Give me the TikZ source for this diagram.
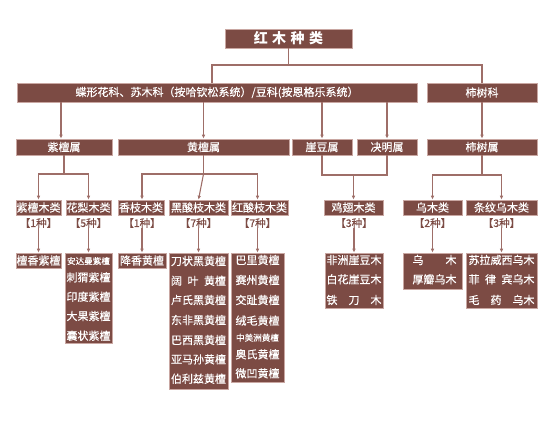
\documentclass[tikz,border=0pt]{standalone}
\usepackage{fontspec}
\setmainfont{Noto Sans CJK SC}
\newfontfamily\hmfont{Noto Sans CJK SC}[FakeBold=0.4]
\usetikzlibrary{arrows.meta}
\definecolor{hmbox}{HTML}{7C4B44}
\definecolor{hmedge}{HTML}{C9A7A2}
\definecolor{hmline}{HTML}{9E6E68}
\begin{document}
\begin{tikzpicture}[x=1pt,y=-1pt,
  box/.style={draw=hmedge, line width=0.6pt, fill=hmbox, text=white, inner sep=0pt, font=\hmfont\fontsize{11}{13}\selectfont},
  conn/.style={draw=hmline, line width=1.1pt},
  arr/.style={conn, -{Latex[length=4pt,width=3.6pt]}},
  cnt/.style={text=hmbox, inner sep=0pt, font=\hmfont\fontsize{10.5}{12}\selectfont},
  row/.style={text=white, inner sep=0pt, font=\hmfont\fontsize{11}{13}\selectfont},
  smallrow/.style={text=white, inner sep=0pt, font=\hmfont\fontsize{8.6}{10}\selectfont}]
\useasboundingbox (0,0) rectangle (554,428);

% title
\node[box, minimum width=127pt, minimum height=19pt, font=\bfseries\fontsize{14}{16}\selectfont] (title) at (288.5,38.5) {红\hspace{4.5pt}木\hspace{4.5pt}种\hspace{4.5pt}类};

% families
\node[box, minimum width=400pt, minimum height=19pt] (fam1) at (217,92.5) {蝶形花科、苏木科（按哈钦松系统）/豆科(按恩格乐系统）};
\node[box, minimum width=110pt, minimum height=19pt] (fam2) at (482,92.5) {柿树科};

% genera
\node[box, minimum width=96pt, minimum height=16pt] (g1) at (64,147) {紫檀属};
\node[box, minimum width=171pt, minimum height=16pt] (g2) at (203.5,147) {黄檀属};
\node[box, minimum width=60pt, minimum height=16pt] (g3) at (322,147) {崖豆属};
\node[box, minimum width=60pt, minimum height=16pt] (g4) at (387,147) {决明属};
\node[box, minimum width=110pt, minimum height=16pt] (g5) at (482,147) {柿树属};

% classes
\node[box, minimum width=45pt, minimum height=15pt] (c1) at (38.5,207.5) {紫檀木类};
\node[box, minimum width=45pt, minimum height=15pt] (c2) at (88.5,207.5) {花梨木类};
\node[box, minimum width=46pt, minimum height=15pt] (c3) at (141,207.5) {香枝木类};
\node[box, minimum width=59pt, minimum height=15pt] (c4) at (198.5,207.5) {黑酸枝木类};
\node[box, minimum width=57pt, minimum height=15pt] (c5) at (259.5,207.5) {红酸枝木类};
\node[box, minimum width=59pt, minimum height=15pt] (c6) at (353.5,207.5) {鸡翅木类};
\node[box, minimum width=59pt, minimum height=15pt] (c7) at (432.5,207.5) {乌木类};
\node[box, minimum width=71pt, minimum height=15pt] (c8) at (501.5,207.5) {条纹乌木类};

% counts
\node[cnt] (n1) at (38.5,223) {【1种】};
\node[cnt] (n2) at (88.5,223) {【5种】};
\node[cnt] (n3) at (142,223) {【1种】};
\node[cnt] (n4) at (198.5,223) {【7种】};
\node[cnt] (n5) at (257.5,223) {【7种】};
\node[cnt] (n6) at (354,223) {【3种】};
\node[cnt] (n7) at (432.5,223) {【2种】};
\node[cnt] (n8) at (501.5,223) {【3种】};

% species boxes
\node[box, minimum width=45pt, minimum height=15pt] (s1) at (38.5,260.5) {檀香紫檀};
\node[box, minimum width=47pt, minimum height=90pt] (s2) at (88.5,298) {};
\node[box, minimum width=48pt, minimum height=15pt] (s3) at (142,260.5) {降香黄檀};
\node[box, minimum width=59pt, minimum height=136pt] (s4) at (198.5,321) {};
\node[box, minimum width=53pt, minimum height=129pt] (s5) at (257.5,317.5) {};
\node[box, minimum width=58pt, minimum height=55pt] (s6) at (354,280.5) {};
\node[box, minimum width=59pt, minimum height=36pt] (s7) at (432.5,271) {};
\node[box, minimum width=71pt, minimum height=55pt] (s8) at (501.5,280.5) {};

% species rows
\node[smallrow] (s2a) at (88.5,261) {安达曼紫檀};
\node[row] (s2b) at (88.5,277.3) {刺猬紫檀};
\node[row] (s2c) at (88.5,296.7) {印度紫檀};
\node[row] (s2d) at (88.5,316) {大果紫檀};
\node[row] (s2e) at (88.5,335.7) {囊状紫檀};

\node[row] (s4a) at (198.5,261) {刀状黑黄檀};
\node[row] (s4b) at (198.5,280.7) {阔\hspace{0.5em}叶\hspace{0.5em}黄檀};
\node[row] (s4c) at (198.5,300) {卢氏黑黄檀};
\node[row] (s4d) at (198.5,320) {东非黑黄檀};
\node[row] (s4e) at (198.5,340) {巴西黑黄檀};
\node[row] (s4f) at (198.5,359.3) {亚马孙黄檀};
\node[row] (s4g) at (198.5,378.7) {伯利兹黄檀};

\node[row] (s5a) at (257.5,260) {巴里黄檀};
\node[row] (s5b) at (257.5,280) {赛州黄檀};
\node[row] (s5c) at (257.5,300) {交趾黄檀};
\node[row] (s5d) at (257.5,320.7) {绒毛黄檀};
\node[smallrow] (s5e) at (257.5,337.7) {中美洲黄檀};
\node[row] (s5f) at (257.5,354.3) {奥氏黄檀};
\node[row] (s5g) at (257.5,373.3) {微凹黄檀};

\node[row] (s6a) at (354,260) {非洲崖豆木};
\node[row] (s6b) at (354,279.3) {白花崖豆木};
\node[row] (s6c) at (354,300) {铁　刀　木};

\node[row] (s7a) at (434.5,260) {乌　　木};
\node[row] (s7b) at (434.5,279.3) {厚瓣乌木};

\node[row] (s8a) at (501.5,260) {苏拉威西乌木};
\node[row] (s8b) at (501.5,279.3) {菲\hspace{0.5em}律\hspace{0.5em}宾乌木};
\node[row] (s8c) at (501.5,300) {毛　药　乌木};

% connectors: title to families
\draw[conn] (title.south) -- (title.south |- 0,65);
\draw[conn] ([xshift=-5pt]fam1.north) -- ([xshift=-5pt]fam1.north |- 0,65) -| (fam2.north);

% families to genera
\draw[arr] ([xshift=-3pt]fam1.south -| g1.north) -- ([xshift=-3pt]g1.north);
\draw[arr] (fam1.south -| g2.north) -- (g2.north);
\draw[arr] (fam1.south -| g3.north) -- (g3.north);
\draw[arr] (fam1.south -| g4.north) -- (g4.north);
\draw[arr] (fam2.south) -- (g5.north);

% genera to classes
\draw[arr] (g1.south) -- (g1.south |- 0,174) -| (c1.north);
\draw[arr] (g1.south |- 0,174) -| (c2.north);
\draw[arr] (g2.south) -- (g2.south |- 0,174) -| (c3.north -| n3.south);
\draw[arr] (g2.south |- 0,174) -- (c4.north);
\draw[arr] (g2.south |- 0,174) -| (c5.north -| n5.south);
\draw[conn] (g3.south) -- (g3.south |- 0,175) -| (g4.south);
\draw[arr] (c6.north |- 0,175) -- (c6.north);
\draw[arr] (g5.south) -- (g5.south |- 0,175) -| (c7.north);
\draw[arr] (g5.south |- 0,175) -| (c8.north);

% counts to species
\draw[arr] (n1.south) -- (n1.south |- s1.north);
\draw[arr] (n2.south) -- (n2.south |- s2.north);
\draw[arr] (n3.south) -- (n3.south |- s3.north);
\draw[arr] (n4.south) -- (n4.south |- s4.north);
\draw[arr] (n5.south) -- (n5.south |- s5.north);
\draw[arr] (n6.south) -- (n6.south |- s6.north);
\draw[arr] (n7.south) -- (n7.south |- s7.north);
\draw[arr] (n8.south) -- (n8.south |- s8.north);
\end{tikzpicture}
\end{document}
